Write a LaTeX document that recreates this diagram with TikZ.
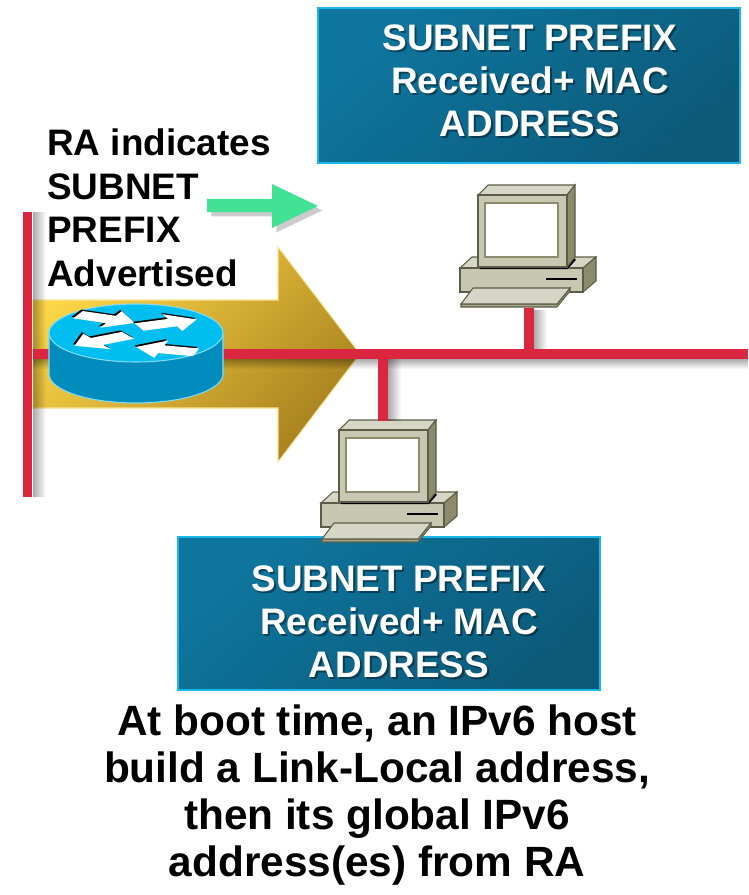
\documentclass[tikz,border=0pt]{standalone}
\usepackage{fontspec}
\setmainfont{Liberation Sans}
\usetikzlibrary{arrows.meta,shadows,fadings}

\definecolor{lanred}{RGB}{218,38,62}
\definecolor{signal}{RGB}{66,226,148}
\definecolor{arrowhi}{RGB}{252,214,72}
\definecolor{arrowmid}{RGB}{246,198,52}
\definecolor{arrowlo}{RGB}{168,130,30}
\definecolor{arrowedge}{RGB}{250,226,150}
\definecolor{routertop}{RGB}{0,190,240}
\definecolor{routerside}{RGB}{0,140,188}
\definecolor{routeredge}{RGB}{130,220,248}
\definecolor{pcface}{RGB}{200,200,178}
\definecolor{pctop}{RGB}{214,214,198}
\definecolor{pcside}{RGB}{140,140,108}
\definecolor{pcedge}{RGB}{92,92,72}
\definecolor{boxdark}{RGB}{14,118,158}
\definecolor{boxlight}{RGB}{0,168,222}
\definecolor{boxdeep}{RGB}{12,90,122}
\definecolor{boxrim}{RGB}{26,184,232}

\tikzset{
  % desktop host, origin at top-left corner of the monitor front
  pc/.pic={
    \begin{scope}[draw=pcedge, line width=0.6pt]
      % system unit
      \filldraw[fill=pctop] (-18,73) -- (-6,62) -- (118,62) -- (105,73) -- cycle;
      \filldraw[fill=pcside] (105,73) -- (118,62) -- (118,86) -- (105,97) -- cycle;
      \filldraw[fill=pcface] (-18,73) rectangle (105,97);
      \draw[black, line width=1pt] (68,84) -- (99,84);
      % monitor
      \draw[black, line width=1.4pt] (2,73) -- (89,73) -- (97,64);
      \filldraw[fill=pctop] (0,0) -- (10,-10) -- (97,-10) -- (89,0) -- cycle;
      \filldraw[fill=pcside] (89,0) -- (97,-10) -- (97,62) -- (89,72) -- cycle;
      \filldraw[fill=pcface] (0,0) rectangle (89,72);
      \filldraw[fill=white, draw=pcside] (7,8) rectangle (80,62);
      % keyboard
      \filldraw[fill=pcside!55!pcface] (-17,109) -- (79,109) -- (92,93) -- (92,96) -- (79,112) -- (-17,112) -- cycle;
      \filldraw[fill=pctop] (-5,93) -- (92,93) -- (79,109) -- (-17,109) -- cycle;
    \end{scope}
    \coordinate (-kbd) at (51,113);
    \coordinate (-top) at (44,-9);
  },
  % router puck, origin at centre of the top face
  router/.pic={
    \filldraw[draw=routeredge, fill=routerside, line width=0.6pt]
      (-87,0) -- (-87,41) arc[start angle=180, end angle=0, x radius=87, y radius=29] -- (87,0) -- cycle;
    \filldraw[draw=routeredge, fill=routertop, line width=0.6pt]
      (0,0) ellipse[x radius=87, y radius=29];
    % arrows on the face, drawn from above and squashed
    \begin{scope}[yscale=0.333]
      \foreach \x/\y/\a in {-58/-55/-23.6, 3/-18/21.6, -8/7/-149.5, 60/58/165} {
        \begin{scope}[shift={(\x,\y)}, shift={(-1.5,-4.5)}, rotate=\a]
          \fill[black] (0,-12) -- (36,-12) -- (36,-27) -- (62,0) -- (36,27) -- (36,12) -- (0,12) -- cycle;
        \end{scope}
        \begin{scope}[shift={(\x,\y)}, rotate=\a]
          \fill[white] (0,-12) -- (36,-12) -- (36,-27) -- (62,0) -- (36,27) -- (36,12) -- (0,12) -- cycle;
        \end{scope}
      }
    \end{scope}
  }
}

\begin{document}
\begin{tikzpicture}[x=0.02cm, y=-0.02cm,
  lan/.style={draw=lanred, line width=0.2cm},
  lanshade/.style={fill=black, opacity=0.33},
  infobox/.style={draw=boxrim, line width=1.3pt, minimum width=8.44cm,
    top color=boxdark, middle color=boxlight, bottom color=boxdeep, shading angle=40},
  boxlabel/.style={align=center, inner sep=0pt, text=white,
    font=\fontsize{21}{24.5}\selectfont\bfseries},
  labelshade/.style={boxlabel, text=black, opacity=0.4},
  note/.style={align=left, inner sep=0pt, font=\fontsize{21}{25}\selectfont\bfseries},
  caption/.style={align=center, inner sep=0pt, font=\fontsize{24.1}{26.9}\selectfont\bfseries}
]
  \useasboundingbox[fill=white] (0,0) rectangle (748,895);

  % advertisement flow
  \path[top color=arrowhi, middle color=arrowmid, bottom color=arrowlo, shading angle=45,
    draw=arrowedge, line width=0.6pt]
    (33,300) -- (278,300) -- (278,247) -- (360,354) -- (278,462) -- (278,408) -- (33,408) -- cycle;

  % link coordinates
  \coordinate (segN) at (27.5,212);
  \coordinate (segS) at (27.5,497);
  \coordinate (busW) at (33,354);
  \coordinate (busE) at (748,354);

  % boxes sit under the hosts
  \node[infobox, minimum height=3.1cm] (topbox) at (529,85.5) {};
  \node[infobox, minimum height=3.06cm] (lowbox) at (389,613.5) {};
  \node[labelshade, anchor=north] (topshade) at (532,26) {SUBNET PREFIX\\Received+ MAC\\ADDRESS};
  \node[labelshade, anchor=north] (lowshade) at (401,567) {SUBNET PREFIX\\Received+ MAC\\ADDRESS};
  \node[boxlabel, anchor=north] (toplabel) at (530,24) {SUBNET PREFIX\\Received+ MAC\\ADDRESS};
  \node[boxlabel, anchor=north] (lowlabel) at (399,565) {SUBNET PREFIX\\Received+ MAC\\ADDRESS};

  \pic (hostA) at (478,195) {pc};
  \pic (hostB) at (339,430) {pc};

  % shadows of the cabling
  \fill[lanshade, path fading=east] (33,212) rectangle (46,497);
  \fill[lanshade, path fading=south] (33,359) rectangle (748,369);
  \fill[lanshade, path fading=east] (534,310) rectangle (547,349);
  \fill[lanshade, path fading=east] (388,359) rectangle (401,421);

  % cabling
  \draw[lan] (segN) -- (segS);
  \draw[lan] (busW) -- (busE);
  \draw[lan] (hostA-kbd) -- (hostA-kbd |- busW);
  \draw[lan] (hostB-top) -- (hostB-top |- busW);

  \pic (rtr) at (136,333) {router};

  \path[fill=signal, drop shadow={shadow xshift=2.5pt, shadow yshift=-2.5pt, opacity=0.4}]
    (207,199) -- (272,199) -- (272,184) -- (318,206) -- (272,228) -- (272,212) -- (207,212) -- cycle;

  \node[note, anchor=north west] (ra) at (47,128) {RA indicates\\SUBNET\\PREFIX\\Advertised};
  \node[caption, anchor=north] (boot) at (377,704)
    {At boot time, an IPv6 host\\build a Link-Local address,\\then its global IPv6\\address(es) from RA};
\end{tikzpicture}
\end{document}
